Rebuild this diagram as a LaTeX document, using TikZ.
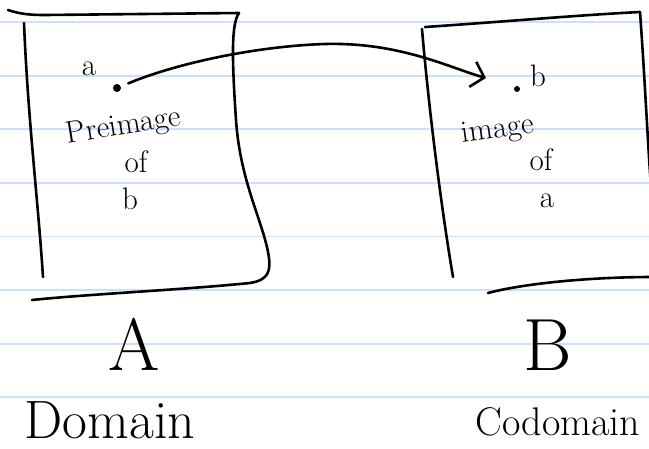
\documentclass[tikz,border=0pt]{standalone}
\usetikzlibrary{arrows.meta}
\definecolor{ruleblue}{RGB}{204,224,252}
\tikzset{
  ink/.style={line width=2.6pt, line cap=round, line join=round},
  ruling/.style={draw=ruleblue, line width=1.8pt},
  note/.style={inner sep=0pt, font=\fontsize{31}{31}\selectfont},
  setname/.style={inner sep=0pt, font=\fontsize{74}{74}\selectfont},
}
\begin{document}
\begin{tikzpicture}[x=1pt, y=-1pt, >={Straight Barb[length=12pt,width=26pt]}]
  \fill[white] (0,0) rectangle (649,448);
  \useasboundingbox (0,0) rectangle (649,448);
  % ruled paper
  \foreach \i in {0,...,7}
    \draw[ruling] (0,{22+53.6*\i}) -- (649,{22+53.6*\i});

  % set A
  \draw[ink] (8,10) .. controls (20,14) and (30,15) .. (45,15) -- (239,13);
  \draw[ink] (24,23) .. controls (28,120) and (38,200) .. (43,277);
  \draw[ink] (239,13) .. controls (231,24) and (232,60) .. (236,120)
    .. controls (240,180) and (262,220) .. (268,252)
    .. controls (272,272) and (268,280) .. (250,283)
    .. controls (180,290) and (90,294) .. (32,300);
  % set B
  \draw[ink] (425,27) .. controls (500,22) and (580,15) .. (640,12);
  \draw[ink] (422,29) .. controls (428,100) and (440,200) .. (453,277);
  \draw[ink] (640,12) .. controls (645,80) and (648,150) .. (652,200);
  \draw[ink] (488,293) .. controls (530,282) and (600,277) .. (652,277);

  % points and labels inside A
  \node[note] (la) at (89,69) {a};
  \node[circle, fill, inner sep=0pt, minimum size=8pt] (pa) at (117,88) {};
  \node[note, rotate=9] (pre) at (124,127) {Preimage};
  \node[note] (ofa) at (136,162) {of};
  \node[note] (lb) at (130,199) {b};

  % points and labels inside B
  \node[circle, fill, inner sep=0pt, minimum size=6pt] (pb) at (517,89) {};
  \node[note] (imb) at (538,76) {b};
  \node[note, rotate=8] (img) at (498,131) {image};
  \node[note] (ofb) at (541,160) {of};
  \node[note] (ima) at (547,201) {a};

  % the map
  \coordinate (to) at (486,78);
  \draw[ink, ->, shorten <=8pt] (pa) .. controls (180,62) and (260,46) .. (325,44)
    .. controls (400,42) and (450,68) .. (to);

  % names underneath
  \node[setname] (A) at (134,344) {A};
  \node[setname] (B) at (548,345) {B};
  \node[inner sep=0pt, font=\fontsize{54}{54}\selectfont] (dom) at (110,420) {Domain};
  \node[inner sep=0pt, font=\fontsize{40}{40}\selectfont] (cod) at (558,422) {Codomain};
\end{tikzpicture}
\end{document}
